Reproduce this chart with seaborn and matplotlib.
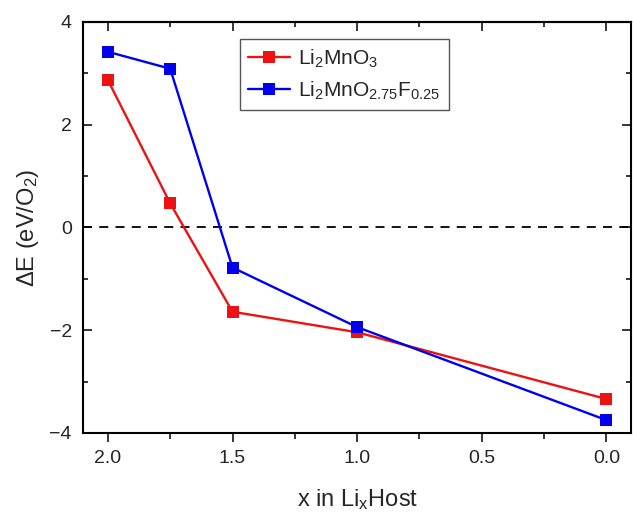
import numpy as np
import pandas as pd
import matplotlib
matplotlib.use("Agg")
import matplotlib.pyplot as plt
import seaborn as sns
from matplotlib.ticker import MultipleLocator

sns.set_style("ticks")
plt.rcParams['font.family'] = ['Liberation Sans', 'DejaVu Sans']
plt.rcParams['mathtext.fontset'] = 'custom'
plt.rcParams['mathtext.rm'] = 'Liberation Sans'
plt.rcParams['mathtext.it'] = 'Liberation Sans:italic'

x_vals = [2.0, 1.75, 1.5, 1.0, 0.0]
e_li2mno3 = [2.87, 0.47, -1.64, -2.04, -3.34]
e_li2mnof = [3.42, 3.09, -0.78, -1.94, -3.75]
labels = [r'Li$_2$MnO$_3$', r'Li$_2$MnO$_{2.75}$F$_{0.25}$']

df = pd.DataFrame({
    "x": x_vals * 2,
    "dE": e_li2mno3 + e_li2mnof,
    "Material": [labels[0]] * 5 + [labels[1]] * 5,
})

fig = plt.figure(figsize=(6.33, 5.17), dpi=100)
ax = fig.add_axes([0.131, 0.1625, 0.8665, 0.795])

ax.axhline(0, color="black", ls=(0, (5, 4)), lw=1.3, zorder=1)
sns.lineplot(data=df, x="x", y="dE", hue="Material", palette=["#ee1111", "#0000ee"],
             marker="s", markersize=9, markeredgewidth=0, lw=1.7, ax=ax,
             sort=False, zorder=3)

ax.set_xlim(2.1, -0.1)
ax.set_ylim(-4, 4)
ax.xaxis.set_major_locator(MultipleLocator(0.5))
ax.xaxis.set_minor_locator(MultipleLocator(0.25))
ax.yaxis.set_major_locator(MultipleLocator(2))
ax.yaxis.set_minor_locator(MultipleLocator(1))

# left/right ticks point inward
ax.tick_params(axis="y", which="both", direction="in", left=True, right=True,
               labelright=False, width=1.3)
ax.tick_params(axis="y", which="major", length=6.5, labelsize=14, pad=8)
ax.tick_params(axis="y", which="minor", length=3.5)
# bottom ticks stick out
ax.tick_params(axis="x", which="both", direction="out", bottom=True, top=False, width=1.3)
ax.tick_params(axis="x", which="major", length=6.5, labelsize=14, pad=6)
ax.tick_params(axis="x", which="minor", length=4)

# top ticks point inward
top = ax.secondary_xaxis("top")
top.xaxis.set_major_locator(MultipleLocator(0.5))
top.xaxis.set_minor_locator(MultipleLocator(0.25))
top.tick_params(which="both", direction="in", labeltop=False, width=1.3)
top.tick_params(which="major", length=6.5)
top.tick_params(which="minor", length=3.5)
top.spines["top"].set_linewidth(1.5)

for s in ax.spines.values():
    s.set_linewidth(1.5)
    s.set_color("black")

ax.set_xlabel(r'x in Li$_\mathrm{x}$Host', fontsize=17, labelpad=14)
ax.set_ylabel(r'ΔE (eV/O$_2$)', fontsize=17, labelpad=6)

leg = ax.legend(loc="upper left", bbox_to_anchor=(0.286, 0.958), fontsize=15,
                fancybox=False, edgecolor="#555555", framealpha=1,
                handlelength=2.0, handletextpad=0.4, borderpad=0.4,
                labelspacing=0.45, borderaxespad=0)
leg.get_frame().set_linewidth(1.0)

fig.savefig("out.png", dpi=100)
